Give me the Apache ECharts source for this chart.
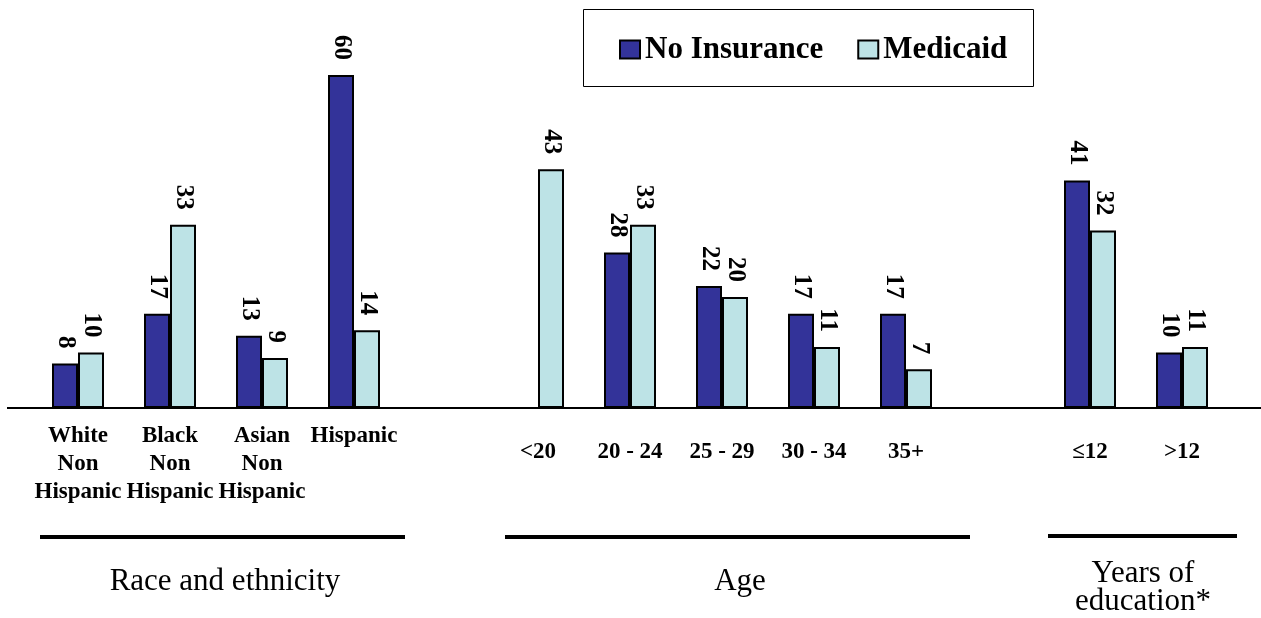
<!DOCTYPE html>
<html>
<head>
<meta charset="utf-8">
<script src="https://cdn.jsdelivr.net/npm/echarts@6.0.0/dist/echarts.min.js"></script>
<style>
  html, body { margin: 0; padding: 0; background: #fff; }
  #main { width: 1261px; height: 618px; }
</style>
</head>
<body>
<div id="main"></div>
<script>
// categories ('' = spacer between groups)
const categories = [
  'White\nNon\nHispanic', 'Black\nNon\nHispanic', 'Asian\nNon\nHispanic', 'Hispanic',
  '',
  '<20', '20 - 24', '25 - 29', '30 - 34', '35+',
  '',
  '≤12', '>12'
]
const noInsurance = [8, 17, 13, 60, null, null, 28, 22, 17, 17, null, 41, 10]
const medicaid = [10, 33, 9, 14, null, 43, 33, 20, 11, 7, null, 32, 11]
const seriesNames = ['No Insurance', 'Medicaid']
const groupTitles = ['Race and ethnicity', 'Age', 'Years of\neducation*']

const serif = '"Liberation Serif", "Times New Roman", serif'
const NAVY = '#333399'
const AQUA = '#bde3e6'

// lower labels (age / education) sit a bit below the race labels
const lowered = new Set(['<20', '20 - 24', '25 - 29', '30 - 34', '35+', '≤12', '>12'])
const axisData = categories.map(c => lowered.has(c)
  ? { value: c, textStyle: { padding: [16, 0, 0, 0] } }
  : c)

const chart = echarts.init(document.getElementById('main'))

const barLabel = {
  show: true,
  position: 'top',
  distance: 15,
  rotate: -90,
  align: 'right',
  verticalAlign: 'middle',
  color: '#000',
  fontFamily: serif,
  fontWeight: 'bold',
  fontSize: 25,
}

function makeSeries(name, data, color) {
  return {
    name,
    type: 'bar',
    data,
    barWidth: 26,
    barGap: '0%',
    itemStyle: { color, borderColor: '#000', borderWidth: 2 },
    label: barLabel,
    emphasis: { disabled: true },
  }
}

chart.setOption({
  animation: false,
  grid: { left: 32, right: 33, top: 75, bottom: 210 },
  legend: {
    data: seriesNames,
    left: 614,
    top: 29,
    icon: 'rect',
    itemWidth: 20,
    itemHeight: 18,
    itemGap: 34,
    itemStyle: { borderColor: '#000', borderWidth: 2 },
    textStyle: { fontFamily: serif, fontWeight: 'bold', fontSize: 31, color: '#000' },
    selectedMode: false,
  },
  xAxis: {
    type: 'category',
    data: axisData,
    axisLine: { show: false },
    axisTick: { show: false },
    axisLabel: {
      interval: 0,
      margin: 14,
      color: '#000',
      fontFamily: serif,
      fontWeight: 'bold',
      fontSize: 23,
      lineHeight: 28,
    },
  },
  yAxis: {
    type: 'value',
    min: 0,
    max: 60,
    show: false,
    splitLine: { show: false },
  },
  series: [
    makeSeries(seriesNames[0], noInsurance, NAVY),
    makeSeries(seriesNames[1], medicaid, AQUA),
  ],
})

// baseline, legend box, group rules and titles
const baseY = chart.convertToPixel({ yAxisIndex: 0 }, 0)
const titleFont = { fontFamily: serif, fontSize: 31, fill: '#000', align: 'center', lineHeight: 28 }
chart.setOption({
  graphic: [
    { type: 'line', shape: { x1: 7, y1: baseY, x2: 1261, y2: baseY }, style: { stroke: '#000', lineWidth: 2 }, z: 1 },
    { type: 'rect', shape: { x: 583.5, y: 9.5, width: 450, height: 77 }, style: { fill: 'none', stroke: '#000', lineWidth: 1 } },
    { type: 'line', shape: { x1: 40, y1: 537, x2: 405, y2: 537 }, style: { stroke: '#000', lineWidth: 4 } },
    { type: 'line', shape: { x1: 505, y1: 537, x2: 970, y2: 537 }, style: { stroke: '#000', lineWidth: 4 } },
    { type: 'line', shape: { x1: 1048, y1: 536, x2: 1237, y2: 536 }, style: { stroke: '#000', lineWidth: 4 } },
    { type: 'text', x: 225, y: 582, style: Object.assign({ text: groupTitles[0], verticalAlign: 'middle' }, titleFont) },
    { type: 'text', x: 740, y: 582, style: Object.assign({ text: groupTitles[1], verticalAlign: 'middle' }, titleFont) },
    { type: 'text', x: 1143, y: 588, style: Object.assign({ text: groupTitles[2], verticalAlign: 'middle' }, titleFont) },
  ],
})
</script>
</body>
</html>
